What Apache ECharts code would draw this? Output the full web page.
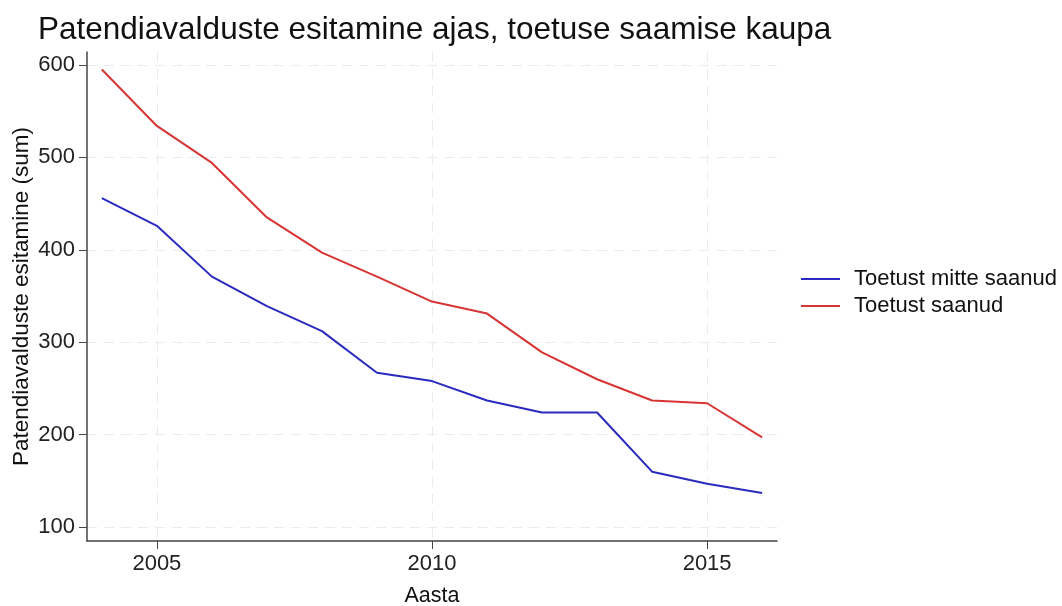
<!DOCTYPE html>
<html>
<head>
<meta charset="utf-8">
<script src="https://cdn.jsdelivr.net/npm/echarts@6/dist/echarts.min.js"></script>
<style>html,body{margin:0;padding:0;background:#fff}#c{width:1062px;height:606px}</style>
</head>
<body>
<div id="c"></div>
<script>
const years = [2004, 2005, 2006, 2007, 2008, 2009, 2010, 2011, 2012, 2013, 2014, 2015, 2016];
const notFunded = [456, 426, 371, 339, 312, 267, 258, 237, 224, 224, 160, 147, 137];
const funded = [595, 534, 494, 435, 397, 371, 344, 331, 289, 260, 237, 234, 197];
const xTicks = [2005, 2010, 2015];
const yTicks = [100, 200, 300, 400, 500, 600];
const seriesNames = ['Toetust mitte saanud', 'Toetust saanud'];

const font = 'Liberation Sans, Arial, sans-serif';
const chart = echarts.init(document.getElementById('c'));
chart.setOption({
  animation: false,
  backgroundColor: '#fff',
  title: {
    text: 'Patendiavalduste esitamine ajas, toetuse saamise kaupa',
    left: 33, top: 9,
    textStyle: { fontFamily: font, fontSize: 31.5, fontWeight: 'normal', color: '#111' }
  },
  legend: {
    orient: 'vertical', left: 796, top: 263, itemGap: 5,
    icon: 'rect', itemWidth: 39, itemHeight: 2,
    textStyle: { fontFamily: font, fontSize: 22, color: '#111', padding: [0, 0, 0, 9] },
    data: seriesNames
  },
  grid: { left: 87, right: 285, top: 52, bottom: 65, containLabel: false, outerBoundsMode: 'none' },
  xAxis: {
    type: 'value', min: 2003.73, max: 2016.27,
    name: 'Aasta', nameLocation: 'middle', nameGap: 44, nameMoveOverlap: false,
    nameTextStyle: { fontFamily: font, fontSize: 21.5, color: '#111' },
    axisLine: { lineStyle: { color: '#444', width: 1.5 } },
    axisTick: { show: true, length: 8, customValues: xTicks, lineStyle: { color: '#444' } },
    axisLabel: { customValues: xTicks, fontFamily: font, fontSize: 22, color: '#222', margin: 12, formatter: v => String(v) },
    splitLine: { show: true, lineStyle: { color: '#ebebeb', type: [10, 7] } }
  },
  yAxis: {
    type: 'value', min: 85, max: 614,
    name: 'Patendiavalduste esitamine (sum)', nameLocation: 'middle', nameGap: 54, nameMoveOverlap: false,
    nameTextStyle: { fontFamily: font, fontSize: 22.5, color: '#111' },
    axisLine: { show: true, lineStyle: { color: '#444', width: 1.5 } },
    axisTick: { show: true, length: 8, customValues: yTicks, lineStyle: { color: '#444' } },
    axisLabel: { customValues: yTicks, fontFamily: font, fontSize: 22, color: '#222', margin: 12 },
    splitLine: { show: true, lineStyle: { color: '#ebebeb', type: [10, 7] } }
  },
  series: [
    {
      name: seriesNames[0], type: 'line', showSymbol: false, symbol: 'none',
      lineStyle: { color: '#2a2abf', width: 2 }, itemStyle: { color: '#2a2abf' },
      data: years.map((y, i) => [y, notFunded[i]])
    },
    {
      name: seriesNames[1], type: 'line', showSymbol: false, symbol: 'none',
      lineStyle: { color: '#d73434', width: 2 }, itemStyle: { color: '#d73434' },
      data: years.map((y, i) => [y, funded[i]])
    }
  ]
});
</script>
</body>
</html>
